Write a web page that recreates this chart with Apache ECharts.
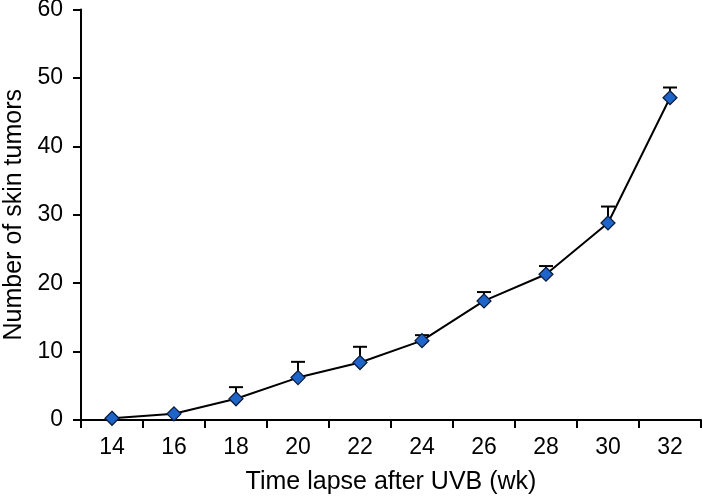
<!DOCTYPE html>
<html>
<head>
<meta charset="utf-8">
<script src="https://cdn.jsdelivr.net/npm/echarts@6/dist/echarts.min.js"></script>
<style>html,body{margin:0;padding:0;background:#fff}#c{width:703px;height:502px}</style>
</head>
<body>
<div id="c"></div>
<script>
var weeks = ['14', '16', '18', '20', '22', '24', '26', '28', '30', '32'];
var tumors = [0.25, 0.9, 3.1, 6.2, 8.4, 11.6, 17.4, 21.3, 28.8, 47.1];
var errorTop = [0.25, 0.9, 4.8, 8.5, 10.7, 12.4, 18.7, 22.5, 31.2, 48.6];

var chart = echarts.init(document.getElementById('c'), null, {renderer: 'canvas'});
var font = 'Liberation Sans, Arial, sans-serif';
chart.setOption({
  animation: false,
  grid: {left: 81, right: 2, top: 9.5, bottom: 82, containLabel: false, outerBoundsMode: 'none'},
  xAxis: {
    type: 'category',
    data: weeks,
    boundaryGap: true,
    name: 'Time lapse after UVB (wk)',
    nameLocation: 'middle',
    nameGap: 50,
    nameTextStyle: {fontFamily: font, fontSize: 25, color: '#000'},
    axisLine: {lineStyle: {color: '#000', width: 2}},
    axisTick: {show: true, length: 8, alignWithLabel: false, lineStyle: {color: '#000', width: 2}},
    axisLabel: {fontFamily: font, fontSize: 23, color: '#000', margin: 16}
  },
  yAxis: {
    type: 'value',
    min: 0, max: 60, interval: 10,
    name: 'Number of skin tumors',
    nameLocation: 'middle',
    nameGap: 54,
    nameRotate: 90,
    nameTextStyle: {fontFamily: font, fontSize: 25, color: '#000'},
    axisLine: {show: true, lineStyle: {color: '#000', width: 2}},
    axisTick: {show: true, length: 8, lineStyle: {color: '#000', width: 2}},
    axisLabel: {fontFamily: font, fontSize: 23, color: '#000', margin: 18},
    splitLine: {show: false}
  },
  series: [
    {
      type: 'custom',
      z: 1,
      data: weeks.map(function (w, i) { return [i, tumors[i], errorTop[i]]; }),
      renderItem: function (params, api) {
        var p = api.coord([api.value(0), api.value(1)]);
        var t = api.coord([api.value(0), api.value(2)]);
        if (Math.abs(p[1] - t[1]) < 2) return null;
        var hw = 7;
        return {
          type: 'group',
          children: [
            {type: 'line', shape: {x1: p[0], y1: p[1], x2: t[0], y2: t[1]}, style: {stroke: '#000', lineWidth: 2}},
            {type: 'line', shape: {x1: t[0] - hw, y1: t[1], x2: t[0] + hw, y2: t[1]}, style: {stroke: '#000', lineWidth: 2}}
          ]
        };
      }
    },
    {
      type: 'line',
      z: 3,
      data: tumors,
      symbol: 'diamond',
      symbolSize: [14, 14],
      lineStyle: {color: '#000', width: 2},
      itemStyle: {color: '#1f64c8', borderColor: '#0a1a3a', borderWidth: 1.2},
      emphasis: {disabled: true}
    }
  ]
});
</script>
</body>
</html>
